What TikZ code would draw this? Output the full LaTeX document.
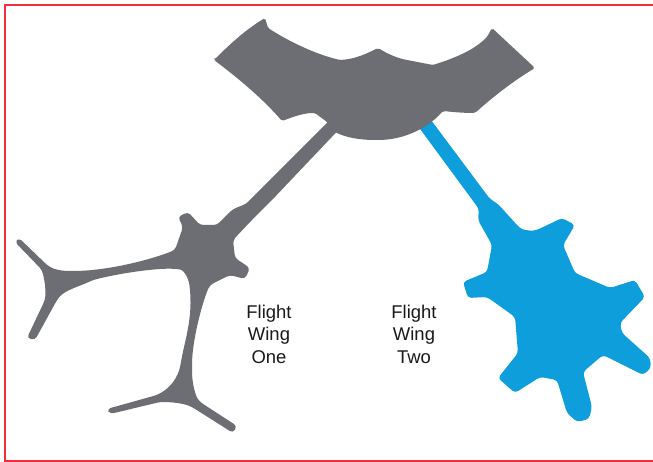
\documentclass[tikz,border=0pt]{standalone}
\usepackage{fontspec}
\setmainfont{Liberation Sans}
\usepackage{xcolor}
\usepackage{tikz}
\usetikzlibrary{positioning}
\definecolor{wingone}{RGB}{109,110,115}
\definecolor{wingtwo}{RGB}{14,158,219}
\definecolor{framered}{RGB}{243,45,58}

\begin{document}
\begin{tikzpicture}[x=0.02cm, y=-0.02cm,
    every node/.style={font=\fontsize{10.5}{12.8}\selectfont, align=center, text=black!90},
    hall/.style={fill=wingone, draw=none, rounded corners=1pt}]
  \useasboundingbox (0,0) rectangle (653,462);
  \fill[white] (0,0) rectangle (653,462);

  % Frame
  \draw[framered, line width=1.2pt] (653,4.7) -- (5.2,4.7) -- (5.2,461) -- (653,461);

  % Connector and satellite of the second wing
  \fill[wingtwo, rounded corners=2pt] (425,112) -- (490,199) -- (498,204) -- (517,225)
    .. controls (522,230) and (530,231) .. (537,230) -- (562,218) -- (575,225) -- (563,245)
    -- (575,273) -- (610,288) -- (635,280) -- (645,297) -- (620,323) -- (622,333)
    -- (650,358) -- (651,368) -- (643,375) -- (603,355) -- (583,372) -- (592,407)
    -- (589,419) -- (577,422) -- (567,413) -- (557,380) -- (540,377) -- (515,393)
    -- (498,378) -- (518,353) -- (515,317) -- (487,297) -- (468,298) -- (463,282)
    -- (487,272) -- (492,245) -- (478,220) -- (479,209) -- (412,118) -- cycle;

  % Terminal hall
  \fill[hall] (214,60) .. controls (228,46) and (245,30) .. (265,18)
    -- (268,28) .. controls (290,42) and (315,54) .. (340,60)
    .. controls (355,59) and (366,54) .. (378,48)
    .. controls (388,54) and (397,58) .. (407,60)
    -- (433,65) .. controls (455,58) and (474,50) .. (487,37)
    -- (492,28) -- (535,68) .. controls (515,80) and (495,95) .. (475,113)
    .. controls (463,113) and (453,112) .. (443,111)
    .. controls (425,131) and (400,140) .. (377,140)
    .. controls (358,140) and (345,137) .. (335,132)
    -- (327,122) -- (315,113)
    .. controls (303,113) and (293,117) .. (282,121)
    .. controls (262,98) and (238,78) .. (214,60) -- cycle;

  % Connector and satellite of the first wing
  \fill[hall, rounded corners=2pt] (346,122) -- (272,200) -- (258,214) -- (250,222) -- (233,240) -- (235,258)
    -- (250,268) -- (245,279) -- (230,275) -- (210,285)
    .. controls (203,300) and (192,340) .. (192,368)
    .. controls (192,382) and (195,395) .. (200,402)
    -- (237,426) -- (233,433) -- (192,407)
    .. controls (182,403) and (170,402) .. (160,402)
    -- (110,414) -- (107,409) -- (157,395)
    .. controls (170,388) and (178,378) .. (181,362)
    .. controls (185,340) and (192,320) .. (190,290)
    .. controls (189,280) and (185,270) .. (176,269)
    .. controls (160,268) and (125,272) .. (93,280)
    .. controls (78,287) and (65,290) .. (57,300)
    -- (35,340) -- (27,338) -- (45,300)
    .. controls (46,288) and (44,278) .. (42,270)
    -- (15,242) -- (19,238) -- (47,265)
    .. controls (55,270) and (62,271) .. (75,271)
    .. controls (110,270) and (150,260) .. (175,250)
    -- (183,227) -- (178,217) -- (188,212) -- (200,225) -- (217,225) -- (233,209) -- (246,204)
    -- (327,123) -- (336,114) -- cycle;

  % Wing labels
  \node (wing one) at (269,334) {Flight\\Wing\\One};
  \node (wing two) at (414,334) {Flight\\Wing\\Two};
\end{tikzpicture}
\end{document}
